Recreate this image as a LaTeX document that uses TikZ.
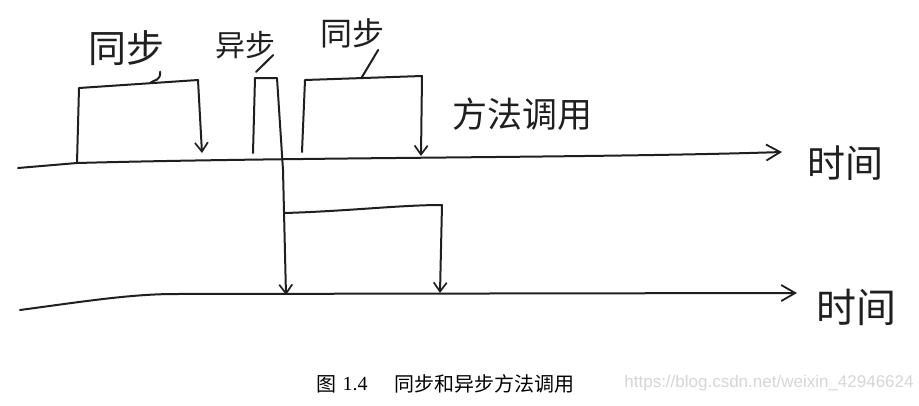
\documentclass[tikz,border=0pt]{standalone}
\usepackage{fontspec}
\newfontfamily\cjk{Noto Sans CJK SC}
\newfontfamily\wm{Liberation Sans}
\newfontfamily\capserif{Liberation Serif}
\usetikzlibrary{arrows.meta}
\begin{document}
\begin{tikzpicture}[x=1pt,y=-1pt,
  hand/.style={line width=2pt, line cap=round, line join=round, draw=black!88},
  tip/.style={-{Straight Barb[length=9pt,width=13pt,line width=1.7pt]}},
  timeline/.style={hand,-{Straight Barb[length=14pt,width=16pt,line width=1.8pt]}},
  lbl/.style={font=\cjk\fontsize{#1}{#1}\selectfont, inner sep=0pt, text=black!88}]
\useasboundingbox (0,0) rectangle (919,405);
\fill[white] (0,0) rectangle (919,405);

% ---------- labels ----------
\node[lbl=38] (s1) at (126,48) {同步};
\node[lbl=30] (a1) at (245,45) {异步};
\node[lbl=32] (s2) at (352,33) {同步};
\node[lbl=35] (call) at (522,114) {方法调用};
\node[lbl=38] (time1) at (845,163) {时间};
\node[lbl=40] (time2) at (856,307) {时间};

% ---------- top timeline ----------
\coordinate (t1s) at (18,168);
\coordinate (t1a) at (77,163);
\coordinate (t1e) at (782,152);
\draw[timeline] (t1s) -- (t1a) .. controls (300,157) and (600,158) .. (t1e);

% ---------- bottom timeline ----------
\coordinate (t2s) at (20,310);
\coordinate (t2a) at (175,294);
\coordinate (t2e) at (797,293);
\draw[timeline] (t2s) .. controls (80,302) and (130,294) .. (t2a) -- (t2e);

% ---------- synchronous call 1 ----------
\coordinate (s1a) at (77,163);
\coordinate (s1b) at (79,88);
\coordinate (s1c) at (198,80);
\coordinate (s1d) at (202,153);
\coordinate (s1k) at (150,83);
\draw[hand,tip] (s1a) -- (s1b) -- (s1c) -- (s1d);
\draw[hand] ([xshift=-4pt,yshift=-6pt]s1.south east) .. controls +(0,10) and +(5,-4) .. (s1k);

% ---------- asynchronous call ----------
\coordinate (a1a) at (253,153);
\coordinate (a1b) at (255,78);
\coordinate (a1c) at (277,78);
\coordinate (a1d) at (283,170);
\coordinate (a1e) at (286,295);
\coordinate (a1f) at (285,213);
\coordinate (a1g) at (442,205);
\coordinate (a1h) at (440,293);
\coordinate (a1k) at (256,72);
\draw[hand] ([xshift=-2pt,yshift=-10pt]a1.east) -- (a1k);
\draw[hand,tip] (a1a) -- (a1b) -- (a1c) -- (a1d) -- (a1e);
\draw[hand,tip] (a1f) .. controls (350,211) and (400,205) .. (a1g) -- (a1h);

% ---------- synchronous call 2 ----------
\coordinate (s2a) at (302,152);
\coordinate (s2b) at (305,80);
\coordinate (s2c) at (422,76);
\coordinate (s2d) at (421,156);
\coordinate (s2k) at (362,77);
\draw[hand,tip] (s2a) -- (s2b) -- (s2c) -- (s2d);
\draw[hand] ([xshift=-6pt,yshift=-2pt]s2.south east) -- (s2k);

% ---------- caption ----------
\node[font=\cjk\fontsize{20}{20}\selectfont, inner sep=0pt] (fig) at (326,384) {图};
\node[font=\capserif\fontsize{20}{20}\selectfont, inner sep=0pt] (num) at (355,384) {1.4};
\node[font=\cjk\fontsize{20}{20}\selectfont, inner sep=0pt] (cap) at (484,384) {同步和异步方法调用};
\node[font=\wm\fontsize{17}{17}\selectfont, inner sep=0pt, text=black!16] (mark) at (769,383) {https://blog.csdn.net/weixin\_42946624};
\end{tikzpicture}
\end{document}
